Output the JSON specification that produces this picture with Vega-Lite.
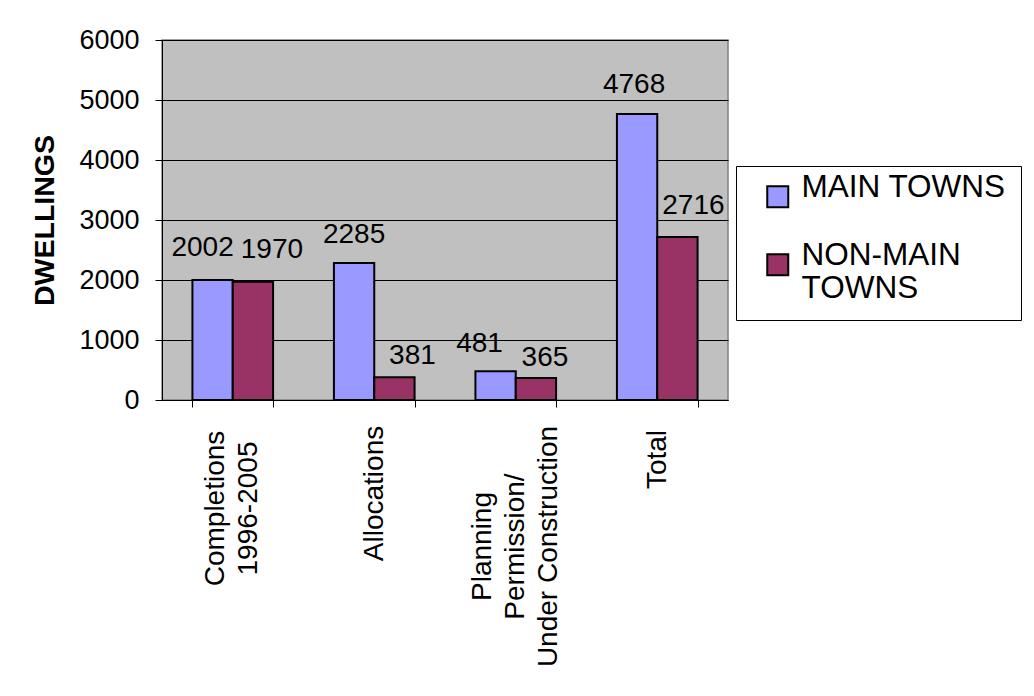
{
  "$schema": "https://vega.github.io/schema/vega-lite/v6.json",
  "width": 566,
  "height": 360,
  "autosize": {"type": "none"},
  "padding": {"left": 162, "top": 40, "right": 306, "bottom": 296},
  "background": "white",
  "config": {
    "font": "Liberation Sans",
    "view": {"fill": "#C0C0C0", "stroke": "#808080", "strokeWidth": 1.5},
    "axis": {"labelColor": "black", "titleColor": "black", "domainColor": "black", "tickColor": "black", "labelFont": "Liberation Sans", "titleFont": "Liberation Sans", "domainWidth": 1, "tickWidth": 1}
  },
  "data": {
    "values": [
      {"category": "Completions 1996-2005", "series": "MAIN TOWNS", "value": 2002},
      {"category": "Completions 1996-2005", "series": "NON-MAIN TOWNS", "value": 1970},
      {"category": "Allocations", "series": "MAIN TOWNS", "value": 2285},
      {"category": "Allocations", "series": "NON-MAIN TOWNS", "value": 381},
      {"category": "Planning Permission/ Under Construction", "series": "MAIN TOWNS", "value": 481},
      {"category": "Planning Permission/ Under Construction", "series": "NON-MAIN TOWNS", "value": 365},
      {"category": "Total", "series": "MAIN TOWNS", "value": 4768},
      {"category": "Total", "series": "NON-MAIN TOWNS", "value": 2716}
    ]
  },
  "encoding": {
    "x": {
      "field": "category",
      "type": "nominal",
      "sort": ["Completions 1996-2005", "Allocations", "Planning Permission/ Under Construction", "Total"],
      "scale": {"paddingInner": 0.43, "paddingOuter": 0.215},
      "axis": {
        "title": null,
        "labelAngle": -90,
        "labelFontSize": 28,
        "labelLineHeight": 33,
        "labelAlign": "center",
        "labelBaseline": "middle",
        "labelLimit": 500,
        "tickBand": "extent",
        "tickSize": 7,
        "grid": false,
        "labelPadding": {
          "condition": [
            {"test": "datum.value == 'Total'", "value": 52},
            {"test": "datum.value == 'Allocations'", "value": 86},
            {"test": "datum.value == 'Completions 1996-2005'", "value": 101}
          ],
          "value": 139
        },
        "labelOffset": {
          "condition": [
            {"test": "datum.value == 'Completions 1996-2005'", "value": -17},
            {"test": "datum.value == 'Planning Permission/ Under Construction'", "value": -33}
          ],
          "value": 0
        },
        "labelExpr": "datum.value == 'Completions 1996-2005' ? ['Completions', '1996-2005'] : datum.value == 'Planning Permission/ Under Construction' ? ['Planning', 'Permission/', 'Under Construction'] : datum.value"
      }
    },
    "xOffset": {"field": "series", "type": "nominal", "sort": ["MAIN TOWNS", "NON-MAIN TOWNS"]},
    "y": {
      "field": "value",
      "type": "quantitative",
      "scale": {"domain": [0, 6000]},
      "axis": {
        "title": "DWELLINGS",
        "titleFontSize": 28.5,
        "titleFontWeight": "bold",
        "titlePadding": 19,
        "labelFontSize": 27,
        "labelPadding": 16,
        "tickSize": 7,
        "format": "d",
        "values": [0, 1000, 2000, 3000, 4000, 5000, 6000],
        "grid": true,
        "gridColor": "black",
        "gridWidth": 1
      }
    }
  },
  "layer": [
    {
      "mark": {"type": "bar", "stroke": "black", "strokeWidth": 2},
      "encoding": {
        "color": {
          "field": "series",
          "type": "nominal",
          "scale": {"domain": ["MAIN TOWNS", "NON-MAIN TOWNS"], "range": ["#9999FF", "#993366"]},
          "legend": {
            "title": null,
            "orient": "none",
            "legendX": 574,
            "legendY": 126,
            "strokeColor": "black",
            "fillColor": "white",
            "padding": 15,
            "symbolType": "square",
            "symbolSize": 441,
            "symbolStrokeColor": "black",
            "symbolStrokeWidth": 2,
            "symbolOpacity": 1,
            "symbolOffset": 11,
            "labelFontSize": 31.5,
            "labelColor": "black",
            "labelOffset": 8,
            "labelLimit": 400,
            "labelBaseline": "alphabetic",
            "rowPadding": 27,
            "labelExpr": "datum.label == 'NON-MAIN TOWNS' ? ['NON-MAIN', 'TOWNS'] : datum.label"
          }
        }
      }
    },
    {
      "mark": {
        "type": "text",
        "baseline": "alphabetic",
        "fontSize": 28,
        "color": "black",
        "dx": {"expr": "datum.category == 'Completions 1996-2005' ? (datum.series == 'MAIN TOWNS' ? -10 : 19) : datum.category == 'Allocations' ? (datum.series == 'MAIN TOWNS' ? 0 : 18) : datum.category == 'Total' ? (datum.series == 'MAIN TOWNS' ? -3 : 16) : (datum.series == 'MAIN TOWNS' ? -16 : 9)"},
        "dy": {"expr": "datum.category == 'Completions 1996-2005' ? -24 : datum.category == 'Allocations' ? (datum.series == 'MAIN TOWNS' ? -20 : -13) : datum.category == 'Total' ? (datum.series == 'MAIN TOWNS' ? -21 : -23) : (datum.series == 'MAIN TOWNS' ? -19 : -12)"}
      },
      "encoding": {"text": {"field": "value", "type": "quantitative", "format": "d"}}
    }
  ]
}
